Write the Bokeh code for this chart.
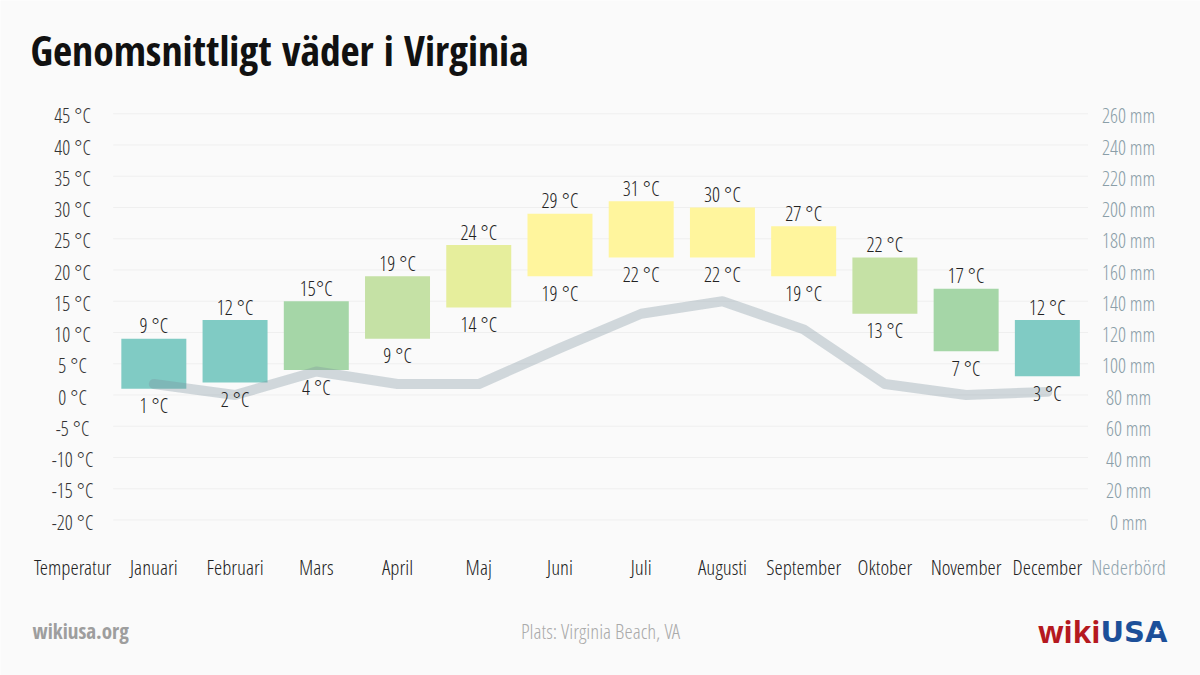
from bokeh.plotting import figure
from bokeh.embed import file_html
from bokeh.resources import INLINE
from bokeh.core.properties import value
from bokeh.models import Range1d, ColumnDataSource

# ---------------- data ----------------
months = ["Januari", "Februari", "Mars", "April", "Maj", "Juni", "Juli",
          "Augusti", "September", "Oktober", "November", "December"]
temp_high = [9, 12, 15, 19, 24, 29, 31, 30, 27, 22, 17, 12]
temp_low = [1, 2, 4, 9, 14, 19, 22, 22, 19, 13, 7, 3]
high_labels = ["9 °C", "12 °C", "15°C", "19 °C", "24 °C", "29 °C", "31 °C", "30 °C", "27 °C", "22 °C", "17 °C", "12 °C"]
low_labels = ["1 °C", "2 °C", "4 °C", "9 °C", "14 °C", "19 °C", "22 °C", "22 °C", "19 °C", "13 °C", "7 °C", "3 °C"]
precip_mm = [87, 80, 95, 87, 87, 110, 132, 140, 122, 87, 80, 82]
temp_ticks = [45, 40, 35, 30, 25, 20, 15, 10, 5, 0, -5, -10, -15, -20]
mm_ticks = [260, 240, 220, 200, 180, 160, 140, 120, 100, 80, 60, 40, 20, 0]
left_title = "Temperatur"
right_title = "Nederbörd"
title_text = "Genomsnittligt väder i Virginia"
place_text = "Plats: Virginia Beach, VA"
site_text = "wikiusa.org"

# ---------------- style ----------------
bar_colors = ["#80cbc4", "#80cbc4", "#a5d6a7", "#c5e1a5", "#e6ee9c", "#fff59d",
              "#fff59d", "#fff59d", "#fff59d", "#c5e1a5", "#a5d6a7", "#80cbc4"]
BG = "#fafafa"
LIGHT = value("Open Sans Condensed Light")
BOLD = value("Open Sans Condensed")
W, H = 1200, 675

# column scale: column 0 = temperature axis, 1..12 months, 13 = precipitation axis
col_px = 81.23
x0_px = 72.1
t_min, t_max = -20, 45
px_per_deg = 6.25
zero_px = 394.5
x_range = Range1d(-x0_px / col_px, (W - x0_px) / col_px)
y_range = Range1d((zero_px - H) / px_per_deg, zero_px / px_per_deg)


def sx(px):
    return (px - x0_px) / col_px


def sy(py):
    return (zero_px - py) / px_per_deg


p = figure(width=W, height=H, output_backend="svg", toolbar_location=None,
           x_range=x_range, y_range=y_range, x_axis_type=None, y_axis_type=None,
           min_border=0, background_fill_color=BG, border_fill_color=BG,
           outline_line_color=None)

# precipitation scale aligned so that 0 mm == -20 °C and 260 mm == 45 °C
mm_per_deg = (mm_ticks[0] - mm_ticks[-1]) / (t_max - t_min)
p.extra_y_ranges = {"mm": Range1d((y_range.start - t_min) * mm_per_deg,
                                  (y_range.end - t_min) * mm_per_deg)}

idx = list(range(1, len(months) + 1))

# grid lines
p.segment(x0=[0.5] * len(temp_ticks), x1=[len(months) + 0.5] * len(temp_ticks),
          y0=temp_ticks, y1=temp_ticks, line_color="#efefef", line_width=1)

# bars
src = ColumnDataSource(dict(x=idx, top=temp_high, bottom=temp_low, color=bar_colors,
                            hl=high_labels, ll=low_labels))
p.vbar(x="x", top="top", bottom="bottom", width=0.8, fill_color="color",
       line_color=None, source=src)

# precipitation line
p.line(x=idx, y=precip_mm, y_range_name="mm", line_color="#78909c", line_alpha=0.32,
       line_width=10, line_cap="round", line_join="round")

# bar labels
p.text(x="x", y="top", text="hl", source=src, text_font=LIGHT, text_font_size="20px",
       text_align="center", text_baseline="middle", y_offset=-13, text_color="#222222")
p.text(x="x", y="bottom", text="ll", source=src, text_font=LIGHT, text_font_size="20px",
       text_align="center", text_baseline="middle", y_offset=17, text_color="#222222")

# left tick labels (temperature)
p.text(x=[0] * len(temp_ticks), y=temp_ticks, text=[f"{t} °C" for t in temp_ticks],
       text_font=LIGHT, text_font_size="20px", text_align="center", text_baseline="middle",
       y_offset=2, text_color="#333333")
# right tick labels (precipitation)
p.text(x=[len(months) + 1] * len(mm_ticks), y=mm_ticks, y_range_name="mm",
       text=[f"{m} mm" for m in mm_ticks], text_font=LIGHT, text_font_size="20px",
       text_align="center", text_baseline="middle", y_offset=2, text_color="#8a9ea8")

# category labels
p.text(x=[0] + idx, y=[t_min] * (len(months) + 1), text=[left_title] + months,
       text_font=LIGHT, text_font_size="21px", text_align="center", text_baseline="middle",
       y_offset=47, text_color="#222222")
p.text(x=[len(months) + 1], y=[t_min], text=[right_title],
       text_font=LIGHT, text_font_size="21px", text_align="center", text_baseline="middle",
       y_offset=47, text_color="#90a4ae")

# title and footer (positioned in screen pixels, converted to data space)
p.text(x=[sx(30)], y=[sy(49)], text=[title_text], text_font=BOLD, text_font_style="bold",
       text_font_size="41.5px", text_color="#111111", text_baseline="middle", text_align="left")
p.text(x=[sx(32)], y=[sy(630)], text=[site_text], text_font=BOLD, text_font_style="bold",
       text_font_size="21px", text_color="#9e9e9e", text_baseline="middle", text_align="left")
p.text(x=[sx(600)], y=[sy(630)], text=[place_text], text_font=LIGHT,
       text_font_size="21px", text_color="#aaaaaa", text_baseline="middle", text_align="center")
p.text(x=[sx(1100)], y=[sy(631)], text=["wiki"], text_font=value("Open Sans"),
       text_font_style="bold", text_font_size="30px", text_color="#b5191f",
       text_baseline="middle", text_align="right")
p.text(x=[sx(1100)], y=[sy(631)], text=["USA"], text_font=value("DejaVu Sans"),
       text_font_style="bold", text_font_size="29px", text_color="#1c4f99",
       text_baseline="middle", text_align="left")
p.text(x=[sx(1157)], y=[sy(630)], text=["★"], text_font=value("DejaVu Sans"),
       text_font_size="9px", text_color="#ffffff", text_baseline="middle", text_align="center")

open("out.html", "w").write(file_html(p, INLINE))
